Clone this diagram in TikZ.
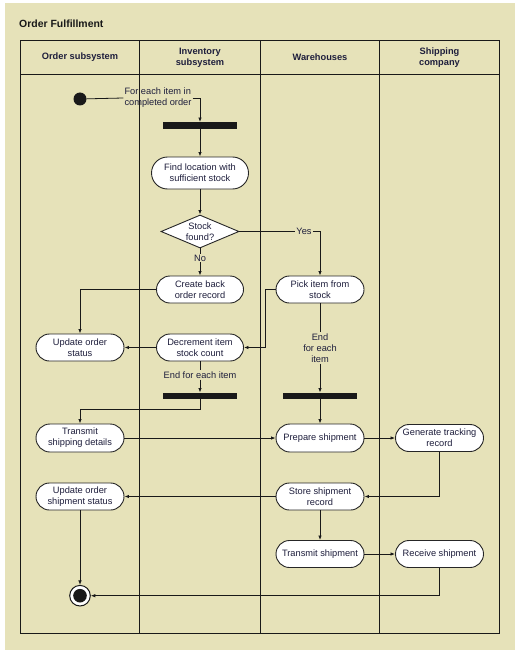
\documentclass[tikz,border=0pt]{standalone}
\usepackage{fontspec}
\setmainfont{Liberation Sans}
\usetikzlibrary{arrows.meta,shapes.geometric}
\definecolor{bg}{HTML}{E6E2B9}
\definecolor{txt}{HTML}{1E1E3C}
\begin{document}
\begin{tikzpicture}[x=1bp,y=-1bp,
  body/.style={font=\fontsize{9.3}{11}\selectfont, text=txt},
  act/.style={body, draw=black!85, fill=white, line width=0.9bp, rounded corners=13.5bp,
     minimum width=88bp, minimum height=27bp, inner sep=0pt, align=center},
  lab/.style={body, inner sep=1bp, align=center},
  hdr/.style={font=\bfseries\fontsize{9.3}{11}\selectfont, text=txt, align=center},
  barnode/.style={fill=black!90, minimum width=74bp, minimum height=6.5bp, inner sep=0pt},
  conn/.style={line width=0.8bp, draw=black!90},
  arr/.style={conn, -{Latex[length=4.5bp,width=3.5bp]}},
  grid/.style={line width=1bp, draw=black!90}]
\useasboundingbox (0,0) rectangle (519,650);
\fill[white] (0,0) rectangle (519,650);
\fill[bg] (5,3) rectangle (515,650);
% title
\node[anchor=west, font=\bfseries\fontsize{10.5}{12}\selectfont, text=black!90, inner sep=0pt] (title) at (19,24) {Order Fulfillment};
% table
\draw[grid] (20,40.5) rectangle (499.5,633);
\draw[grid] (20,75) -- (499.5,75);
\draw[grid] (139.5,40.5) -- (139.5,633);
\draw[grid] (260.5,40.5) -- (260.5,633);
\draw[grid] (379.5,40.5) -- (379.5,633);
\node[hdr] (h1) at (80,57.5) {Order subsystem};
\node[hdr] (h2) at (200,57.5) {Inventory\\subsystem};
\node[hdr] (h3) at (320,57.5) {Warehouses};
\node[hdr] (h4) at (439.5,57.5) {Shipping\\company};
% nodes
\node[circle, fill=black!90, minimum size=13bp, inner sep=0pt] (start) at (80,99) {};
\node[lab, align=left] (lab1) at (158,98) {For each item in\\completed order};
\node[barnode] (bar1) at (200,125.5) {};
\node[act, minimum width=97bp, minimum height=32bp, rounded corners=16bp] (find) at (200,173) {Find location with\\sufficient stock};
\node[diamond, draw=black!85, fill=white, line width=0.9bp, minimum width=78bp, minimum height=33bp, inner sep=0pt] (dec) at (200,231.5) {};
\node[lab, inner sep=0pt] (dectext) at (dec.center) {Stock\\found?};
\node[lab] (yes) at (304,231.5) {Yes};
\node[lab] (no) at (200,258) {No};
\node[act, minimum width=87bp] (create) at (200,289.5) {Create back\\order record};
\node[act] (pick) at (320,289.5) {Pick item from\\stock};
\node[act] (upd1) at (80,347.5) {Update order\\status};
\node[act, minimum width=87bp] (decr) at (200,347.5) {Decrement item\\stock count};
\node[lab] (endlab1) at (200,375) {End for each item};
\node[lab] (endlab2) at (320,348) {End\\for each\\item};
\node[barnode] (bar2) at (200,396) {};
\node[barnode] (bar3) at (320,396) {};
\node[act, minimum height=28bp, rounded corners=14bp] (tsd) at (80,438) {Transmit\\shipping details};
\node[act, minimum height=28bp, rounded corners=14bp] (prep) at (320,438) {Prepare shipment};
\node[act] (gen) at (439.5,438) {Generate tracking\\record};
\node[act] (store) at (320,496.5) {Store shipment\\record};
\node[act] (uos) at (80,496.5) {Update order\\shipment status};
\node[act] (tship) at (320,554) {Transmit shipment};
\node[act] (rec) at (439.5,554) {Receive shipment};
\node[circle, draw=black!90, fill=white, line width=1bp, minimum size=20.6bp, inner sep=0pt,
  path picture={\fill[black!90] (path picture bounding box.center) circle (6.8bp);}] (endn) at (80,595.7) {};
% connectors
\draw[conn] (start) -- (lab1.west);
\draw[arr] (lab1.east) -| (bar1.north);
\draw[arr] (bar1.south) -- (find.north);
\draw[arr] (find.south) -- (dec.north);
\draw[conn] (dec.east) -- (yes.west);
\draw[arr] (yes.east) -| (pick.north);
\draw[conn] (dec.south) -- (no.north);
\draw[arr] (no.south) -- (create.north);
\draw[arr] (create.west) -| (upd1.north);
\draw[arr] (decr.west) -- (upd1.east);
\draw[arr] (pick.west) -- ++(-10.5,0) |- (decr.east);
\draw[conn] (decr.south) -- (endlab1.north);
\draw[arr] (endlab1.south) -- (bar2.north);
\draw[conn] (pick.south) -- (endlab2.north);
\draw[arr] (endlab2.south) -- (bar3.north);
\draw[arr] (bar2.south) -- ++(0,9.5) -| (tsd.north);
\draw[arr] (bar3.south) -- (prep.north);
\draw[arr] (tsd.east) -- (prep.west);
\draw[arr] (prep.east) -- (gen.west);
\draw[arr] (gen.south) |- (store.east);
\draw[arr] (store.west) -- (uos.east);
\draw[arr] (store.south) -- (tship.north);
\draw[arr] (tship.east) -- (rec.west);
\draw[arr] (rec.south) |- (endn.east);
\draw[arr] (uos.south) -- (endn.north);
\end{tikzpicture}
\end{document}
